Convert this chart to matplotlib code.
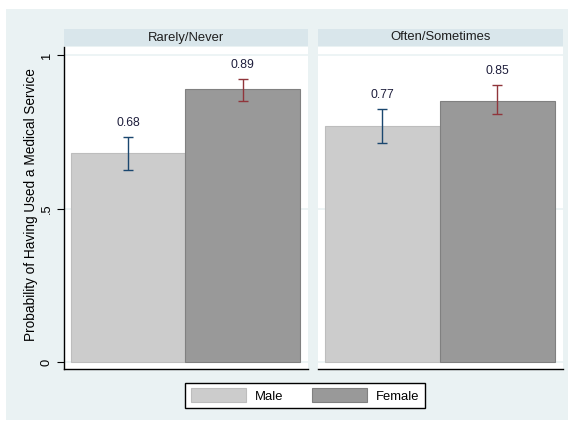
import numpy as np
import matplotlib.pyplot as plt
from matplotlib.patches import Rectangle, Patch

# values
categories = ["Rarely/Never", "Often/Sometimes"]
groups = ["Male", "Female"]
male = [0.68, 0.77]
female = [0.89, 0.85]
male_lo = [0.625, 0.714]
male_hi = [0.734, 0.825]
female_lo = [0.849, 0.808]
female_hi = [0.922, 0.902]
yticks = [0, 0.5, 1]
ytick_labels = ["0", ".5", "1"]

plt.rcParams['font.family'] = ['Liberation Sans', 'DejaVu Sans']

W, H = 573, 421
fig = plt.figure(figsize=(W / 100, H / 100), dpi=100)
fig.patch.set_facecolor("white")

graph_bg = "#eaf2f3"
strip_bg = "#d9e6eb"
bar_colors = ["#cccccc", "#999999"]
edge_colors = ["#bdbdbd", "#808080"]
err_colors = ["#1a476f", "#90353b"]


def px_rect(x0, y0, x1, y1):
    # pixel box (top-left origin) -> figure fraction [l, b, w, h]
    return [x0 / W, 1 - y1 / H, (x1 - x0) / W, (y1 - y0) / H]


fig.patches.append(Rectangle((6 / W, 1 - 420 / H), 562 / W, 411 / H,
                             transform=fig.transFigure, facecolor=graph_bg,
                             edgecolor="none", zorder=-10))

panels = [(64, 308), (318, 563)]
ymin = -7 / 307
ymax = (362 - 47) / 307

for i, (x0, x1) in enumerate(panels):
    ax = fig.add_axes(px_rect(x0, 47, x1, 369))
    ax.set_facecolor("white")
    ax.set_xlim(-0.56, 1.57)
    ax.set_ylim(ymin, ymax)

    for yt in yticks:
        ax.axhline(yt, color=graph_bg, lw=1.2, zorder=0.5)

    vals = [male[i], female[i]]
    lows = [male_lo[i], female_lo[i]]
    highs = [male_hi[i], female_hi[i]]
    for j in range(2):
        ax.bar(j, vals[j], width=1.0, color=bar_colors[j],
               edgecolor=edge_colors[j], linewidth=0.8, zorder=2)
        ax.errorbar(j, vals[j],
                    yerr=[[vals[j] - lows[j]], [highs[j] - vals[j]]],
                    fmt="none", ecolor=err_colors[j], elinewidth=1.0,
                    capsize=3.5, capthick=1.0, zorder=3)
        ax.annotate(f"{vals[j]:.2f}", (j, highs[j]), xytext=(0, 10),
                    textcoords="offset points", ha="center", va="center",
                    fontsize=8.8, color="#1e1e3c")

    for s in ["top", "right"]:
        ax.spines[s].set_visible(False)
    ax.spines["bottom"].set_linewidth(1.0)
    ax.set_xticks([])
    if i == 0:
        ax.spines["left"].set_linewidth(1.0)
        ax.set_yticks(yticks)
        ax.set_yticklabels(ytick_labels, rotation=90, va="center",
                           fontsize=9.3)
        ax.tick_params(axis="y", length=5, width=0.8, pad=3)
        ax.set_ylabel("Probability of Having Used a Medical Service",
                      fontsize=9.8)
        ax.yaxis.set_label_coords(-26 / 244, 0.51)
    else:
        ax.spines["left"].set_visible(False)
        ax.set_yticks([])

    # strip header
    ax.add_patch(Rectangle((0, 1 + 1 / 322), 1, 16.5 / 322,
                           transform=ax.transAxes, facecolor=strip_bg,
                           edgecolor="none", clip_on=False))
    ax.text(0.5, 1 + 9.5 / 322, categories[i], transform=ax.transAxes,
            ha="center", va="center", fontsize=9.4, color="#1e1e1e")

handles = [Patch(facecolor=bar_colors[k], edgecolor=edge_colors[k],
                 linewidth=0.8, label=groups[k]) for k in range(2)]
leg = fig.legend(handles=handles, ncol=2, loc="center",
                 bbox_to_anchor=(305 / W, 1 - 395.5 / H), fontsize=9.4,
                 frameon=True, fancybox=False, edgecolor="black",
                 framealpha=1, handlelength=4.2, handleheight=1.3,
                 handletextpad=0.7, columnspacing=2.2, borderpad=0.4)
leg.get_frame().set_linewidth(1.0)

plt.savefig("out.png", dpi=100)
